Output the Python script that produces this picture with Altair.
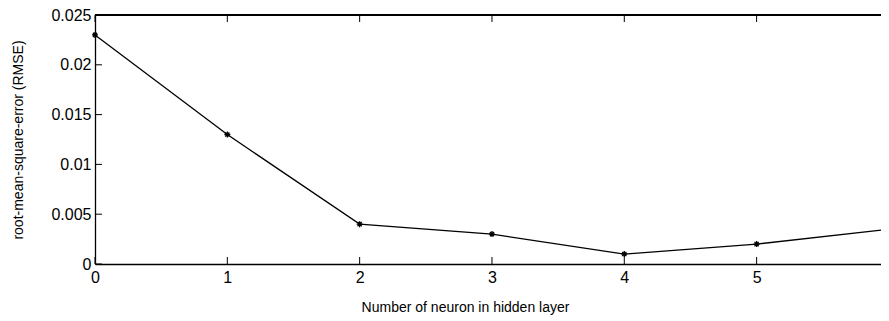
import altair as alt
import pandas as pd

neurons = [0, 1, 2, 3, 4, 5, 6]
rmse = [0.023, 0.013, 0.004, 0.003, 0.001, 0.002, 0.0035]
x_ticks = [0, 1, 2, 3, 4, 5, 6]
y_ticks = [0, 0.005, 0.01, 0.015, 0.02, 0.025]

W, H = 786, 249
FONT = "Liberation Sans"

df = pd.DataFrame({"n": neurons, "rmse": rmse})
dx = pd.DataFrame({"n": x_ticks})
dy = pd.DataFrame({"rmse": y_ticks})

# the reference crops the right edge of the axes box; x = 6 sits at the window edge
xs = alt.Scale(domain=[0, 5.94], nice=False, zero=False)
ys = alt.Scale(domain=[0, 0.025], nice=False, zero=False)

x_axis = alt.Axis(
    values=x_ticks, ticks=False, grid=False, domain=True, domainColor="black", domainWidth=1.3,
    title="Number of neuron in hidden layer", labelFont=FONT, labelFontSize=16,
    labelColor="black", labelPadding=5, labelFlush=False,
    titleFont=FONT, titleFontSize=14, titleFontWeight="normal", titleColor="black",
    titleX=370, titleY=43, titleBaseline="middle", titleAlign="center")
y_axis = alt.Axis(
    values=y_ticks, ticks=False, grid=False, domain=True, domainColor="black", domainWidth=1.3,
    format="~g",
    title="root-mean-square-error (RMSE)", labelFont=FONT, labelFontSize=16,
    labelColor="black", labelPadding=4, labelFlush=False,
    titleFont=FONT, titleFontSize=14, titleFontWeight="normal", titleColor="black",
    titleX=-77, titleY=H / 2, titleAngle=270, titleBaseline="middle", titleAlign="center")

X = alt.X("n:Q", scale=xs, axis=x_axis)
Y = alt.Y("rmse:Q", scale=ys, axis=y_axis)

line = alt.Chart(df).mark_line(color="black", strokeWidth=1.3).encode(x=X, y=Y)

star = "M-1,0L1,0M0,-1L0,1M-0.7,-0.7L0.7,0.7M-0.7,0.7L0.7,-0.7"
pts = alt.Chart(df).mark_point(shape=star, size=36, color="black", strokeWidth=1.3,
                               filled=False, opacity=1).encode(x=X, y=Y)

TL = 7
bt = alt.Chart(dx).mark_rule(color="black", strokeWidth=1).encode(
    x=X, y=alt.value(H), y2=alt.value(H - TL))
tt = alt.Chart(dx).mark_rule(color="black", strokeWidth=1).encode(
    x=X, y=alt.value(0), y2=alt.value(TL))
lt = alt.Chart(dy).mark_rule(color="black", strokeWidth=1).encode(
    y=Y, x=alt.value(0), x2=alt.value(TL))
top = alt.Chart(dx).mark_rule(color="black", strokeWidth=1.3).encode(
    x=alt.value(0), x2=alt.value(W), y=alt.value(0))

chart = alt.layer(line, pts, bt, tt, lt, top).properties(
    width=W, height=H,
    autosize=alt.AutoSizeParams(type="none"),
    padding={"left": 87, "top": 7, "right": 0, "bottom": 56},
    background="white",
).configure_view(stroke=None)

chart.save("out.html", embed_options={"renderer": "svg", "actions": False})
